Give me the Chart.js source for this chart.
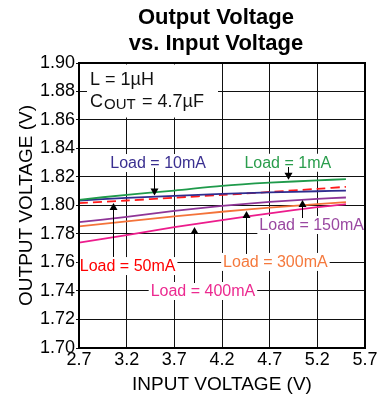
<!DOCTYPE html>
<html>
<head>
<meta charset="utf-8">
<script src="https://cdn.jsdelivr.net/npm/chart.js@4/dist/chart.umd.min.js"></script>
<style>
  html, body { margin: 0; padding: 0; background: #fff; }
  #wrap { width: 391px; height: 400px; }
</style>
</head>
<body>
<div id="wrap"><canvas id="chart" width="391" height="400"></canvas></div>
<script>
// Input voltage sample points (V)
const inputVoltage = [2.7, 3.2, 3.7, 4.2, 4.7, 5.2, 5.5];

// Output voltage (V) for each load current
const load1mA   = [1.8040, 1.8075, 1.8105, 1.8138, 1.8160, 1.8176, 1.8185];
const load10mA  = [1.8035, 1.8053, 1.8068, 1.8081, 1.8092, 1.8100, 1.8105];
const load50mA  = [1.8017, 1.8035, 1.8055, 1.8074, 1.8095, 1.8117, 1.8131];
const load150mA = [1.7883, 1.7920, 1.7962, 1.7997, 1.8025, 1.8046, 1.8056];
const load300mA = [1.7853, 1.7888, 1.7923, 1.7956, 1.7985, 1.8010, 1.8024];
const load400mA = [1.7740, 1.7792, 1.7848, 1.7897, 1.7945, 1.7988, 1.8010];

// Axis ticks
const xTickValues = [2.7, 3.2, 3.7, 4.2, 4.7, 5.2, 5.7];
const yTickValues = [1.70, 1.72, 1.74, 1.76, 1.78, 1.80, 1.82, 1.84, 1.86, 1.88, 1.90];

const titleLines = ['Output Voltage', 'vs. Input Voltage'];
const xAxisTitle = 'INPUT VOLTAGE (V)';
const yAxisTitle = 'OUTPUT VOLTAGE (V)';

const FONT = "'Liberation Sans', Arial, sans-serif";

const series = [
  { label: 'Load = 1mA',   values: load1mA,   color: '#1f9a4b', dash: [] },
  { label: 'Load = 10mA',  values: load10mA,  color: '#2f2c8f', dash: [] },
  { label: 'Load = 50mA',  values: load50mA,  color: '#ff1a1a', dash: [9, 5] },
  { label: 'Load = 150mA', values: load150mA, color: '#8f3597', dash: [] },
  { label: 'Load = 300mA', values: load300mA, color: '#f4733a', dash: [] },
  { label: 'Load = 400mA', values: load400mA, color: '#ec1c8c', dash: [] }
];

// Callout labels with arrows pointing at their curves (data units)
const callouts = [
  { text: 'Load = 1mA',   color: '#2a9d4c', x: 4.89, y: 1.8300, ax: 4.89, from: 1.8270, to: 1.8180 },
  { text: 'Load = 10mA',  color: '#3a2f90', x: 3.53, y: 1.8298, ax: 3.49, from: 1.8263, to: 1.8070 },
  { text: 'Load = 50mA',  color: '#ff0000', x: 3.21, y: 1.7575, ax: 3.06, from: 1.7639, to: 1.8018 },
  { text: 'Load = 150mA', color: '#9a48a1', x: 5.14, y: 1.7863, ax: 5.04, from: 1.7912, to: 1.8039 },
  { text: 'Load = 300mA', color: '#f5793d', x: 4.76, y: 1.7604, ax: 4.45, from: 1.7660, to: 1.7961 },
  { text: 'Load = 400mA', color: '#ec2a90', x: 4.00, y: 1.7400, ax: 3.91, from: 1.7456, to: 1.7849 }
];

const decorations = {
  id: 'decorations',
  afterDatasetsDraw(chart) {
    const { ctx, chartArea: a, scales: { x, y } } = chart;
    ctx.save();

    // Component box in the upper-left corner
    ctx.fillStyle = '#fff';
    ctx.fillRect(a.left + 8, a.top + 1.5, 131, 53);
    ctx.fillStyle = '#111';
    ctx.textBaseline = 'alphabetic';
    ctx.textAlign = 'left';
    ctx.font = '18px ' + FONT;
    ctx.fillText('L = 1\u00b5H', a.left + 11, a.top + 22);
    ctx.fillText('C', a.left + 11, a.top + 44);
    ctx.font = '15px ' + FONT;
    ctx.fillText('OUT', a.left + 25, a.top + 46);
    ctx.font = '18px ' + FONT;
    ctx.fillText('= 4.7\u00b5F', a.left + 63, a.top + 44);

    // Callouts
    ctx.font = '16px ' + FONT;
    ctx.textBaseline = 'middle';
    ctx.textAlign = 'center';
    callouts.forEach(c => {
      const cx = x.getPixelForValue(c.x);
      const cy = y.getPixelForValue(c.y);
      const w = ctx.measureText(c.text).width;
      ctx.fillStyle = '#fff';
      ctx.fillRect(cx - w / 2 - 2, cy - 9, w + 4, 18);
      ctx.fillStyle = c.color;
      ctx.fillText(c.text, cx, cy + 1);

      const px = Math.round(x.getPixelForValue(c.ax)) + 0.5;
      const y0 = y.getPixelForValue(c.from);
      const y1 = y.getPixelForValue(c.to);
      const dir = y1 > y0 ? 1 : -1;
      ctx.strokeStyle = '#000';
      ctx.lineWidth = 1;
      ctx.beginPath();
      ctx.moveTo(px, y0);
      ctx.lineTo(px, y1 - dir * 6);
      ctx.stroke();
      ctx.fillStyle = '#000';
      ctx.beginPath();
      ctx.moveTo(px, y1);
      ctx.lineTo(px - 4, y1 - dir * 7);
      ctx.lineTo(px + 4, y1 - dir * 7);
      ctx.closePath();
      ctx.fill();
    });
    ctx.restore();
  },
  afterDraw(chart) {
    const { ctx, chartArea: a } = chart;
    ctx.save();
    // Plot frame
    ctx.strokeStyle = '#000';
    ctx.lineWidth = 2;
    ctx.strokeRect(a.left, a.top, a.right - a.left, a.bottom - a.top);
    // Two-line bold title
    ctx.fillStyle = '#000';
    ctx.font = 'bold 22px ' + FONT;
    ctx.textAlign = 'center';
    ctx.textBaseline = 'middle';
    titleLines.forEach((t, i) => ctx.fillText(t, 216, 18 + i * 26));
    ctx.restore();
  }
};

new Chart(document.getElementById('chart'), {
  type: 'line',
  data: {
    datasets: series.map(s => ({
      label: s.label,
      data: inputVoltage.map((v, i) => ({ x: v, y: s.values[i] })),
      borderColor: s.color,
      borderWidth: 1.8,
      borderDash: s.dash,
      pointRadius: 0,
      fill: false,
      tension: 0.3
    }))
  },
  options: {
    responsive: false,
    animation: false,
    layout: { padding: { top: 63, right: 26, bottom: 0, left: 0 } },
    plugins: { legend: { display: false }, tooltip: { enabled: false }, title: { display: false } },
    scales: {
      x: {
        type: 'linear',
        min: 2.7,
        max: 5.7,
        afterBuildTicks: s => { s.ticks = xTickValues.map(v => ({ value: v })); },
        afterFit: s => { s.height = 52; },
        ticks: {
          color: '#000',
          font: { family: FONT, size: 18 },
          padding: 1,
          maxRotation: 0,
          autoSkip: false,
          callback: v => Number(v).toFixed(1)
        },
        grid: { color: '#111', lineWidth: 1, drawTicks: false },
        border: { color: '#000', width: 2 },
        title: {
          display: true,
          text: xAxisTitle,
          color: '#000',
          font: { family: FONT, size: 19 },
          padding: { top: 0, bottom: 4 }
        }
      },
      y: {
        type: 'linear',
        min: 1.70,
        max: 1.90,
        afterBuildTicks: s => { s.ticks = yTickValues.map(v => ({ value: v })); },
        afterFit: s => { s.width = 79; },
        ticks: {
          color: '#000',
          font: { family: FONT, size: 18 },
          padding: 1,
          autoSkip: false,
          callback: v => Number(v).toFixed(2)
        },
        grid: { color: '#111', lineWidth: 1, drawTicks: true, tickLength: 3 },
        border: { color: '#000', width: 2 },
        title: {
          display: true,
          text: yAxisTitle,
          color: '#000',
          font: { family: FONT, size: 19 },
          padding: { top: 15, bottom: 0 }
        }
      }
    }
  },
  plugins: [decorations]
});
</script>
</body>
</html>
